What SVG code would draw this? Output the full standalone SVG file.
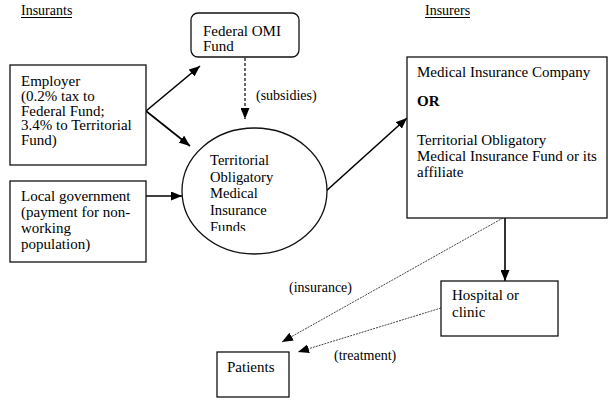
<svg xmlns="http://www.w3.org/2000/svg" width="611" height="400" viewBox="0 0 611 400" font-family="'Liberation Serif', Tinos, 'Times New Roman', 'DejaVu Serif', serif">
<style>
text{font-family:'Liberation Serif',Tinos,'Times New Roman','DejaVu Serif',serif;fill:#000}
.t{font-size:15px}
.l{font-size:14px}
.h{font-size:14px}
.e{font-size:14.6px}
.box{fill:#fff;stroke:#111;stroke-width:1.3}
.solid{stroke:#000;stroke-width:1.6;fill:none}
.dash{stroke:#000;stroke-width:1.2;fill:none;stroke-dasharray:3 2}
.dot{stroke:#444;stroke-width:1;fill:none;stroke-dasharray:2 1}
</style>
<defs>
<marker id="ah" markerUnits="userSpaceOnUse" markerWidth="11" markerHeight="9" refX="11" refY="4.5" orient="auto">
<path d="M0,0 L11,4.5 L0,9 z" fill="#000"/>
</marker>
<clipPath id="ec"><rect x="190" y="140" width="130" height="91"/></clipPath>
</defs>
<rect width="611" height="400" fill="#fff"/>

<g id="headers">
<text class="h" x="21" y="15">Insurants</text>
<line x1="21" y1="17.5" x2="72" y2="17.5" stroke="#000" stroke-width="1"/>
<text class="h" x="425" y="15">Insurers</text>
<line x1="425" y1="17.5" x2="470" y2="17.5" stroke="#000" stroke-width="1"/>
</g>

<g id="connectors">
<line class="solid" x1="146" y1="111" x2="200" y2="66" marker-end="url(#ah)"/>
<line class="solid" x1="146" y1="111" x2="190" y2="146" marker-end="url(#ah)"/>
<line class="dash" x1="245" y1="58" x2="245" y2="119" marker-end="url(#ah)"/>
<line class="solid" x1="146" y1="196" x2="182" y2="196" marker-end="url(#ah)"/>
<line class="solid" x1="325" y1="192" x2="407" y2="118" marker-end="url(#ah)"/>
<line class="solid" x1="505" y1="218" x2="505" y2="281" marker-end="url(#ah)"/>
<line class="dot" x1="503" y1="218" x2="282" y2="342" marker-end="url(#ah)"/>
<line class="dot" x1="441" y1="308" x2="298" y2="352" marker-end="url(#ah)"/>
<text class="l" x="256" y="100">(subsidies)</text>
<text class="l" x="289" y="292">(insurance)</text>
<text class="l" x="334" y="360">(treatment)</text>
</g>

<g id="federal">
<rect class="box" x="191" y="13" width="108" height="44" rx="7"/>
<text class="t" x="203" y="36">Federal OMI</text>
<text class="t" x="203" y="51">Fund</text>
</g>

<g id="employer">
<rect class="box" x="10" y="65" width="136" height="100"/>
<text class="t" x="21" y="86">Employer</text>
<text class="t" x="21" y="101">(0.2% tax to</text>
<text class="t" x="21" y="115.5">Federal Fund;</text>
<text class="t" x="21" y="130">3.4% to Territorial</text>
<text class="t" x="21" y="145">Fund)</text>
</g>

<g id="local">
<rect class="box" x="10" y="181" width="136" height="81"/>
<text class="t" x="21" y="201">Local government</text>
<text class="t" x="21" y="217">(payment for non-</text>
<text class="t" x="21" y="233">working</text>
<text class="t" x="21" y="248.5">population)</text>
</g>

<g id="territorial">
<ellipse class="box" cx="254.5" cy="191" rx="72.5" ry="63"/>
<g clip-path="url(#ec)">
<text class="e" x="210" y="165">Territorial</text>
<text class="e" x="210" y="181.5">Obligatory</text>
<text class="e" x="210" y="198">Medical</text>
<text class="e" x="210" y="215">Insurance</text>
<text class="e" x="210" y="232">Funds</text>
</g>
</g>

<g id="insurer">
<rect class="box" x="407" y="57" width="200" height="161"/>
<text class="t" x="417" y="77">Medical Insurance Company</text>
<text class="t" x="417" y="106" font-weight="bold">OR</text>
<text class="t" x="417" y="145">Territorial Obligatory</text>
<text class="t" x="417" y="161">Medical Insurance Fund or its</text>
<text class="t" x="417" y="177">affiliate</text>
</g>

<g id="hospital">
<rect class="box" x="441" y="281" width="117" height="55"/>
<text class="t" x="452" y="300">Hospital or</text>
<text class="t" x="452" y="317">clinic</text>
</g>

<g id="patients">
<rect class="box" x="217" y="352" width="72" height="45"/>
<text class="t" x="227" y="372">Patients</text>
</g>
</svg>
